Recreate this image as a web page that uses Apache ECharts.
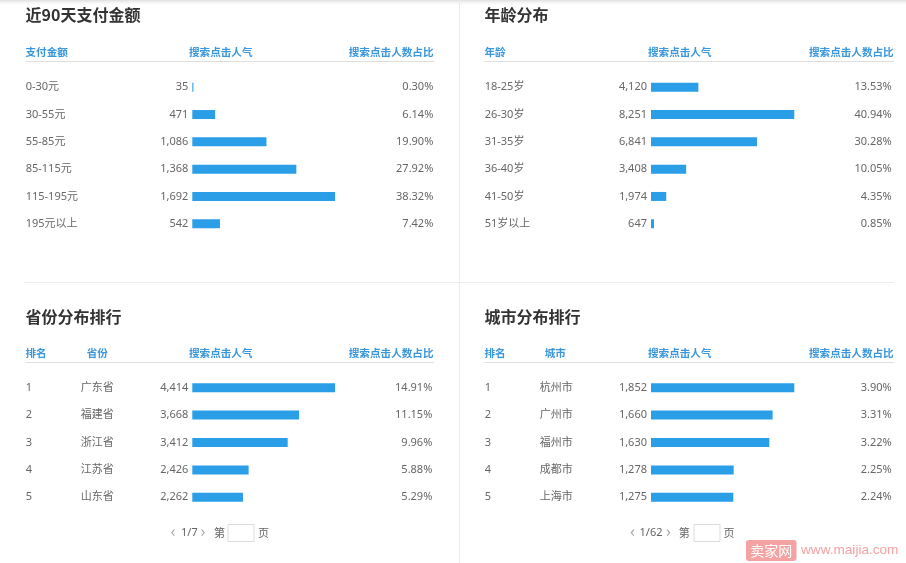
<!DOCTYPE html>
<html><head><meta charset="utf-8">
<script src="https://cdn.jsdelivr.net/npm/echarts@6/dist/echarts.min.js"></script>
<style>html,body{margin:0;padding:0;background:#fff;}#c{width:906px;height:563px;}</style>
</head><body><div id="c"></div>
<script>
// ---------- data ----------
const payCategories = ['0-30元', '30-55元', '55-85元', '85-115元', '115-195元', '195元以上'];
const payClicks = [35, 471, 1086, 1368, 1692, 542];
const payShare = [0.30, 6.14, 19.90, 27.92, 38.32, 7.42];

const ageCategories = ['18-25岁', '26-30岁', '31-35岁', '36-40岁', '41-50岁', '51岁以上'];
const ageClicks = [4120, 8251, 6841, 3408, 1974, 647];
const ageShare = [13.53, 40.94, 30.28, 10.05, 4.35, 0.85];

const provRanks = ['1', '2', '3', '4', '5'];
const provNames = ['广东省', '福建省', '浙江省', '江苏省', '山东省'];
const provClicks = [4414, 3668, 3412, 2426, 2262];
const provShare = [14.91, 11.15, 9.96, 5.88, 5.29];

const cityRanks = ['1', '2', '3', '4', '5'];
const cityNames = ['杭州市', '广州市', '福州市', '成都市', '上海市'];
const cityClicks = [1852, 1660, 1630, 1278, 1275];
const cityShare = [3.90, 3.31, 3.22, 2.25, 2.24];

const panelTitles = ['近90天支付金额', '年龄分布', '省份分布排行', '城市分布排行'];
const headPay = ['支付金额', '搜索点击人气', '搜索点击人数占比'];
const headAge = ['年龄', '搜索点击人气', '搜索点击人数占比'];
const headProv = ['排名', '省份', '搜索点击人气', '搜索点击人数占比'];
const headCity = ['排名', '城市', '搜索点击人气', '搜索点击人数占比'];
const provPager = ['1/7', '第', '页'];
const cityPager = ['1/62', '第', '页'];
const watermark = ['卖家网', 'www.maijia.com'];

// ---------- style ----------
const FONT = "'Noto Sans', 'Noto Sans CJK SC', sans-serif";
const CJK = "'Noto Sans CJK SC', sans-serif";
const BLUE = '#2b9ee8';
const HEAD = '#3a97dc';
const TXT = '#666';

const fmtNum = n => String(n).replace(/\B(?=(\d{3})+(?!\d))/g, ',');
const fmtPct = v => v.toFixed(2) + '%';

const panels = [
  { left: 192.3, width: 142.8, top: 73.6, height: 163.8, labelX: 25.7, pctRight: 433.3,
    cats: payCategories, clicks: payClicks, share: payShare },
  { left: 651, width: 143.3, top: 73.6, height: 163.8, labelX: 484.7, pctRight: 891.7,
    cats: ageCategories, clicks: ageClicks, share: ageShare },
  { left: 192.3, width: 142.8, top: 374, height: 137, labelX: 25.7, pctRight: 432.3,
    cats: provNames, ranks: provRanks, clicks: provClicks, share: provShare },
  { left: 651, width: 143.3, top: 374, height: 137, labelX: 484.7, pctRight: 891.7,
    cats: cityNames, ranks: cityRanks, clicks: cityClicks, share: cityShare }
];

const grid = [], xAxis = [], yAxis = [], series = [];
panels.forEach((p, i) => {
  grid.push({ left: p.left, width: p.width, top: p.top, height: p.height });
  xAxis.push({ type: 'value', gridIndex: i, min: 0, max: Math.max(...p.share), show: false });
  const leftLabel = p.ranks ? {
    show: true, interval: 0, align: 'left', margin: p.left - p.labelX,
    formatter: (v, idx) => '{r|' + p.ranks[idx] + '}{n|' + v + '}',
    rich: {
      r: { width: 55, fontSize: 11, fontFamily: FONT, color: TXT },
      n: { fontSize: 11, fontFamily: FONT, color: TXT }
    }
  } : {
    show: true, interval: 0, align: 'left', margin: p.left - p.labelX,
    fontSize: 11, fontFamily: FONT, color: TXT
  };
  yAxis.push({
    type: 'category', gridIndex: i, inverse: true, data: p.cats, position: 'left',
    axisLine: { show: false }, axisTick: { show: false }, splitLine: { show: false },
    axisLabel: leftLabel
  });
  yAxis.push({
    type: 'category', gridIndex: i, inverse: true, data: p.share.map(fmtPct), position: 'right',
    axisLine: { show: false }, axisTick: { show: false }, splitLine: { show: false },
    axisLabel: { show: true, interval: 0, align: 'right', margin: p.pctRight - (p.left + p.width),
      fontSize: 11, fontFamily: FONT, color: TXT }
  });
  series.push({
    type: 'bar', xAxisIndex: i, yAxisIndex: i * 2, data: p.share, barWidth: 9,
    itemStyle: { color: BLUE }, silent: true, animation: false,
    label: { show: true, position: 'left', distance: 4, color: TXT, fontSize: 11, fontFamily: FONT,
      formatter: q => fmtNum(p.clicks[q.dataIndex]) }
  });
});

// ---------- graphics ----------
const g = [];
const txt = (x, y, text, o) => g.push({ type: 'text', x, y, silent: true, style: Object.assign({
  text, fontSize: 11, fontFamily: FONT, fill: TXT, align: 'left', verticalAlign: 'middle' }, o || {}) });
const line = (x1, y1, x2, y2, c) => g.push({ type: 'line', silent: true, shape: { x1, y1, x2, y2 },
  style: { stroke: c, lineWidth: 1 } });

// top shadow
g.push({ type: 'rect', silent: true, shape: { x: 0, y: 0, width: 906, height: 6 },
  style: { fill: new echarts.graphic.LinearGradient(0, 0, 0, 1, [
    { offset: 0, color: '#dedede' }, { offset: 1, color: 'rgba(255,255,255,0)' }]) } });
// separators
line(459.5, 0, 459.5, 563, '#ececec');
line(25, 282.5, 894, 282.5, '#ececec');

// titles
const titleStyle = { fontSize: 16, fontWeight: 'bold', fill: '#333', fontFamily: CJK };
txt(25.5, 15, panelTitles[0], titleStyle);
txt(484.5, 15, panelTitles[1], titleStyle);
txt(25.5, 316.5, panelTitles[2], titleStyle);
txt(484.5, 316.5, panelTitles[3], titleStyle);

// headers
const hs = { fill: HEAD, fontSize: 10.6, fontWeight: 'bold', fontFamily: CJK };
const hr = Object.assign({}, hs, { align: 'right' });
const hc = Object.assign({}, hs, { align: 'center' });
txt(25.5, 52.3, headPay[0], hs);
txt(189, 52.3, headPay[1], hs);
txt(433.5, 52.3, headPay[2], hr);
line(25.5, 61.5, 434, 61.5, '#dfdfdf');

txt(484.5, 52.3, headAge[0], hs);
txt(648, 52.3, headAge[1], hs);
txt(893.7, 52.3, headAge[2], hr);
line(484.5, 61.5, 894, 61.5, '#dfdfdf');

txt(25.5, 353.3, headProv[0], hs);
txt(97.3, 353.3, headProv[1], hc);
txt(189, 353.3, headProv[2], hs);
txt(433.5, 353.3, headProv[3], hr);
line(25.5, 362.5, 434, 362.5, '#dfdfdf');

txt(484.5, 353.3, headCity[0], hs);
txt(555.3, 353.3, headCity[1], hc);
txt(648, 353.3, headCity[2], hs);
txt(893.7, 353.3, headCity[3], hr);
line(484.5, 362.5, 894, 362.5, '#dfdfdf');

// pagers
function pager(xs, labels) {
  txt(xs[0], 532.7, '‹', { fontSize: 16, fill: '#aaa' });
  txt(xs[1], 532.7, labels[0], { fontSize: 11 });
  txt(xs[2], 532.7, '›', { fontSize: 16, fill: '#aaa' });
  txt(xs[3], 532.7, labels[1], { fontSize: 11, fontFamily: CJK });
  g.push({ type: 'rect', silent: true, shape: { x: xs[4] + 0.5, y: 524.5, width: 26, height: 17 },
    style: { fill: '#fff', stroke: '#dcdcdc', lineWidth: 1 } });
  txt(xs[5], 532.7, labels[2], { fontSize: 11, fontFamily: CJK });
}
pager([170.5, 181, 200.5, 214, 227.5, 258], provPager);
pager([630, 639.5, 666, 678.7, 693.5, 723.5], cityPager);

// watermark
g.push({ type: 'rect', silent: true, shape: { x: 746, y: 540, width: 50.5, height: 21, r: 3 },
  style: { fill: '#f4a2a2' } });
txt(771.2, 550.5, watermark[0], { fontSize: 14, fill: '#fff', align: 'center', fontFamily: CJK });
txt(801, 550.7, watermark[1], { fontSize: 13.6, fill: '#f4a2a2', fontFamily: "'Liberation Sans', Arial, sans-serif" });

const chart = echarts.init(document.getElementById('c'), null, { renderer: 'canvas' });
chart.setOption({
  backgroundColor: '#fff',
  animation: false,
  grid, xAxis, yAxis, series,
  graphic: { elements: g }
});
</script>
</body></html>
